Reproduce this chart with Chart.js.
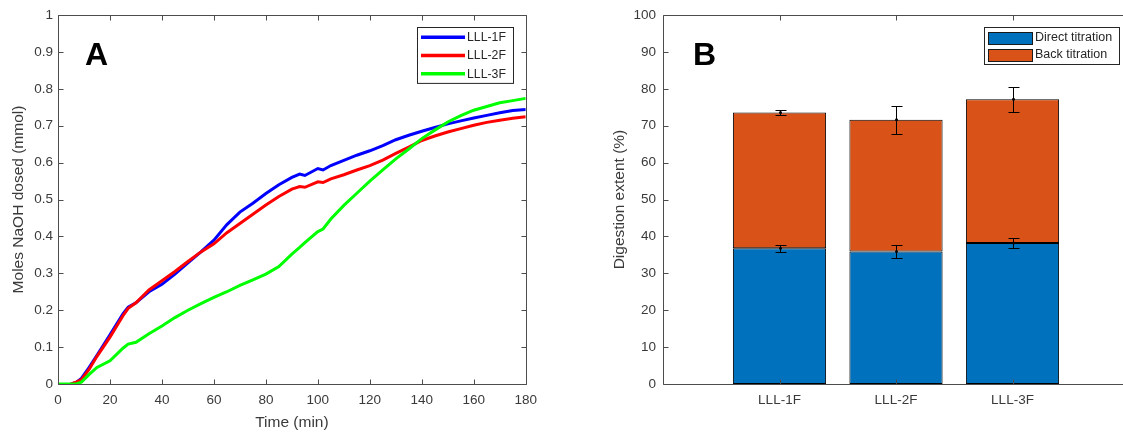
<!DOCTYPE html>
<html>
<head>
<meta charset="utf-8">
<title>Titration and digestion extent</title>
<script src="https://cdn.jsdelivr.net/npm/chart.js@4.4.1/dist/chart.umd.min.js"></script>
<style>
  html, body { margin: 0; padding: 0; background: #fff; overflow: hidden; }
  #wrap { position: relative; width: 1123px; height: 432px; overflow: hidden; }
  .panel { position: absolute; top: 0; height: 432px; }
  #panelA { left: 0; width: 545px; }
  #panelB { left: 560px; width: 600px; }
</style>
</head>
<body>
<div id="wrap">
  <div class="panel" id="panelA"><canvas id="chartA"></canvas></div>
  <div class="panel" id="panelB"><canvas id="chartB"></canvas></div>
</div>
<script>
// NaOH dosed during pH-stat digestion, sampled in minutes
const time = [0, 3, 5, 7, 9, 12, 15, 20, 25, 27, 30, 35, 40, 45, 50, 55, 60, 65, 70, 75,
              80, 85, 90, 93, 95, 100, 102, 105, 110, 115, 120, 125, 130, 135, 140, 145,
              150, 155, 160, 165, 170, 175, 180];
const lll1F = [null, null, 0, 0.004, 0.015, 0.045, 0.078, 0.133, 0.19, 0.208, 0.22, 0.25, 0.27, 0.298, 0.328, 0.358,
               0.39, 0.432, 0.466, 0.49, 0.516, 0.54, 0.56, 0.569, 0.565, 0.584, 0.58, 0.592, 0.606, 0.62,
               0.632, 0.646, 0.662, 0.674, 0.685, 0.695, 0.705, 0.713, 0.721, 0.728, 0.735, 0.741, 0.744];
const lll2F = [null, null, 0, 0.005, 0.012, 0.04, 0.075, 0.127, 0.185, 0.205, 0.22, 0.255, 0.28, 0.305, 0.332, 0.358,
               0.38, 0.41, 0.435, 0.46, 0.485, 0.508, 0.528, 0.535, 0.533, 0.548, 0.546, 0.556, 0.567, 0.58,
               0.592, 0.607, 0.625, 0.642, 0.66, 0.672, 0.683, 0.692, 0.701, 0.709, 0.715, 0.72, 0.724];
const lll3F = [0, 0, 0, 0, 0.005, 0.026, 0.045, 0.063, 0.097, 0.108, 0.113, 0.136, 0.157, 0.18, 0.2, 0.218,
               0.235, 0.25, 0.267, 0.282, 0.298, 0.318, 0.352, 0.37, 0.383, 0.413, 0.42, 0.447, 0.484, 0.517,
               0.55, 0.58, 0.61, 0.637, 0.665, 0.688, 0.71, 0.727, 0.742, 0.752, 0.762, 0.768, 0.774];

// digestion extent (%) split by titration type
const groups = ["LLL-1F", "LLL-2F", "LLL-3F"];
const direct = [36.8, 35.9, 38.2];
const back = [36.8, 35.7, 39.0];
const directSD = [0.9, 1.8, 1.3];
const totalSD = [0.55, 3.85, 3.4];

const FONT = "'Liberation Sans', Arial, sans-serif";
const TEXT = "#3a3a3a";
const AXIS = "#4d4d4d";

Chart.defaults.font.family = FONT;
Chart.defaults.color = TEXT;

// frame with inward ticks on all four sides, plus the panel letter
const matlabAxes = {
	id: "matlabAxes",
	afterDatasetsDraw(chart, args, opts) {
		const {ctx, chartArea: a, scales: {x, y}} = chart;
		const L = Math.round(a.left) + 0.5, R = Math.round(a.right) + 0.5;
		const T = Math.round(a.top) + 0.5, B = Math.round(a.bottom) + 0.5;
		const len = 5;
		ctx.save();
		ctx.strokeStyle = AXIS;
		ctx.lineWidth = 1;
		ctx.beginPath();
		ctx.rect(L, T, R - L, B - T);
		x.ticks.forEach(t => {
			const px = Math.round(x.getPixelForValue(t.value)) + 0.5;
			ctx.moveTo(px, B); ctx.lineTo(px, B - len);
			ctx.moveTo(px, T); ctx.lineTo(px, T + len);
		});
		y.ticks.forEach(t => {
			const py = Math.round(y.getPixelForValue(t.value)) + 0.5;
			ctx.moveTo(L, py); ctx.lineTo(L + len, py);
			ctx.moveTo(R, py); ctx.lineTo(R - len, py);
		});
		ctx.stroke();
		if (opts.letter) {
			ctx.fillStyle = "#000";
			ctx.font = "bold 32px " + FONT;
			ctx.textBaseline = "alphabetic";
			ctx.fillText(opts.letter, a.left + opts.dx, a.top + 50);
		}
		ctx.restore();
	}
};

// mean +/- SD bars on the direct part and on the stacked total
const errorBars = {
	id: "errorBars",
	afterDatasetsDraw(chart) {
		if (!chart.options.plugins.errorBars) return;
		const {ctx, scales: {x, y}} = chart;
		ctx.save();
		ctx.strokeStyle = "#000";
		ctx.fillStyle = "#000";
		ctx.lineWidth = 1;
		groups.forEach((g, i) => {
			const px = Math.round(x.getPixelForValue(i + 1)) + 0.5;
			[[direct[i], directSD[i]], [direct[i] + back[i], totalSD[i]]].forEach(([v, sd]) => {
				const y0 = Math.round(y.getPixelForValue(v - sd)) + 0.5;
				const y1 = Math.round(y.getPixelForValue(v + sd)) + 0.5;
				ctx.beginPath();
				ctx.moveTo(px, y0); ctx.lineTo(px, y1);
				ctx.moveTo(px - 5, y0); ctx.lineTo(px + 6, y0);
				ctx.moveTo(px - 5, y1); ctx.lineTo(px + 6, y1);
				ctx.stroke();
				ctx.beginPath();
				ctx.arc(px, y.getPixelForValue(v), 1.5, 0, Math.PI * 2);
				ctx.fill();
			});
		});
		ctx.restore();
	}
};

// boxed legend in the upper right corner of the plot
const boxLegend = {
	id: "boxLegend",
	afterDraw(chart, args, opts) {
		const {ctx, chartArea: a} = chart;
		const sets = chart.data.datasets;
		const right = Math.round(a.right - opts.inset);
		const top = Math.round(a.top + opts.top);
		const left = right - opts.width;
		const h = opts.pad * 2 + opts.rowH * sets.length;
		ctx.save();
		ctx.fillStyle = "#fff";
		ctx.fillRect(left, top, opts.width, h);
		ctx.strokeStyle = "#262626";
		ctx.lineWidth = 1;
		ctx.strokeRect(left + 0.5, top + 0.5, opts.width - 1, h - 1);
		ctx.font = opts.fontSize + "px " + FONT;
		ctx.textBaseline = "middle";
		sets.forEach((ds, i) => {
			const cy = top + opts.pad + opts.rowH * (i + 0.5);
			if (opts.swatch) {
				ctx.fillStyle = ds.backgroundColor;
				ctx.fillRect(left + 4, Math.round(cy - 6), 44, 12);
				ctx.strokeStyle = "#1a1a1a";
				ctx.strokeRect(left + 4.5, Math.round(cy - 6) + 0.5, 44, 12);
			} else {
				ctx.strokeStyle = ds.borderColor;
				ctx.lineWidth = 3.5;
				ctx.beginPath();
				ctx.moveTo(left + 4, cy);
				ctx.lineTo(left + 48, cy);
				ctx.stroke();
			}
			ctx.fillStyle = "#262626";
			ctx.fillText(ds.label, left + opts.textX, cy + 0.5);
		});
		ctx.restore();
	}
};

const tickFont = {size: 13.5};
const titleFont = {size: 15.5};

const line = (label, values, color, order) => ({
	label: label,
	data: time.map((t, i) => ({x: t, y: values[i]})).filter(p => p.y !== null),
	borderColor: color,
	backgroundColor: color,
	borderWidth: 3,
	pointRadius: 0,
	tension: 0,
	order: order
});

new Chart(document.getElementById("chartA"), {
	type: "line",
	data: {
		datasets: [
			line("LLL-1F", lll1F, "#0000ff", 2),
			line("LLL-2F", lll2F, "#ff0000", 1),
			line("LLL-3F", lll3F, "#00ff00", 0)
		]
	},
	options: {
		responsive: true,
		maintainAspectRatio: false,
		animation: false,
		events: [],
		layout: {padding: {top: 15, right: 18, bottom: 0, left: 0}},
		scales: {
			x: {
				type: "linear",
				min: 0,
				max: 180,
				ticks: {stepSize: 20, padding: 8, font: tickFont, color: TEXT, maxRotation: 0},
				grid: {display: false, drawTicks: false},
				border: {display: false},
				title: {display: true, text: "Time (min)", font: titleFont, color: TEXT, padding: {top: 0, bottom: 0}},
				afterFit: s => { s.height = 48; }
			},
			y: {
				min: 0,
				max: 1,
				ticks: {stepSize: 0.1, padding: 5, font: tickFont, color: TEXT, callback: v => Math.round(v * 10) / 10},
				grid: {display: false, drawTicks: false},
				border: {display: false},
				title: {display: true, text: "Moles NaOH dosed (mmol)", font: titleFont, color: TEXT, padding: {top: 9, bottom: 0}},
				afterFit: s => { s.width = 58; }
			}
		},
		plugins: {
			legend: {display: false},
			tooltip: {enabled: false},
			matlabAxes: {letter: "A", dx: 27},
			boxLegend: {inset: 12, top: 12, width: 97, pad: 1, rowH: 18.3, fontSize: 12.3, textX: 50, swatch: false}
		}
	},
	plugins: [matlabAxes, boxLegend]
});

new Chart(document.getElementById("chartB"), {
	type: "bar",
	data: {
		datasets: [
			{
				label: "Direct titration",
				data: direct.map((v, i) => ({x: i + 1, y: v})),
				backgroundColor: "#0072bd",
				borderColor: "#000",
				borderWidth: 1,
				borderSkipped: false
			},
			{
				label: "Back titration",
				data: back.map((v, i) => ({x: i + 1, y: v})),
				backgroundColor: "#d95319",
				borderColor: "#000",
				borderWidth: 1,
				borderSkipped: false
			}
		]
	},
	options: {
		responsive: true,
		maintainAspectRatio: false,
		animation: false,
		events: [],
		barPercentage: 0.8,
		categoryPercentage: 1,
		layout: {padding: {top: 15, right: 31, bottom: 0, left: 44}},
		scales: {
			x: {
				type: "linear",
				min: 0,
				max: 4,
				offset: false,
				stacked: true,
				afterBuildTicks: s => { s.ticks = groups.map((g, i) => ({value: i + 1})); },
				ticks: {padding: 8, font: tickFont, color: TEXT, maxRotation: 0, autoSkip: false,
					callback: (v, i) => groups[i]},
				grid: {display: false, drawTicks: false},
				border: {display: false},
				afterFit: s => { s.height = 48; }
			},
			y: {
				min: 0,
				max: 100,
				stacked: true,
				ticks: {stepSize: 10, padding: 7, font: tickFont, color: TEXT},
				grid: {display: false, drawTicks: false},
				border: {display: false},
				title: {display: true, text: "Digestion extent (%)", font: titleFont, color: TEXT, padding: {top: 6, bottom: 0}},
				afterFit: s => { s.width = 59; }
			}
		},
		plugins: {
			legend: {display: false},
			tooltip: {enabled: false},
			errorBars: true,
			matlabAxes: {letter: "B", dx: 30},
			boxLegend: {inset: 9, top: 12, width: 136, pad: 2, rowH: 17, fontSize: 12.5, textX: 51, swatch: true}
		}
	},
	plugins: [matlabAxes, errorBars, boxLegend]
});
</script>
</body>
</html>
